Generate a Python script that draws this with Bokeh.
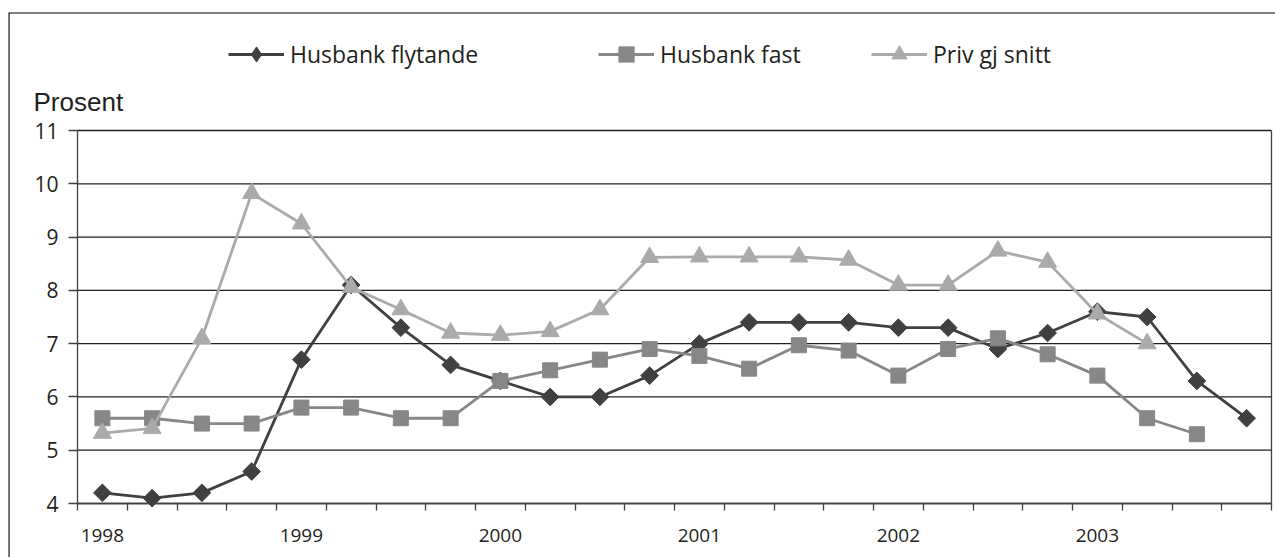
import math
from bokeh.plotting import figure
from bokeh.models import (FixedTicker, Legend, LegendItem, Label, Range1d, LinearAxis)
from bokeh.embed import file_html
from bokeh.resources import INLINE

# ---- data ----
quarters = [f"{y}K{q}" for y in range(1998, 2004) for q in range(1, 5)]
year_labels = ["1998", "1999", "2000", "2001", "2002", "2003"]
year_label_index = [0, 4, 8, 12, 16, 20]

husbank_flytande = [4.2, 4.1, 4.2, 4.6, 6.7, 8.1, 7.3, 6.6, 6.3, 6.0, 6.0, 6.4,
                    7.0, 7.4, 7.4, 7.4, 7.3, 7.3, 6.9, 7.2, 7.6, 7.5, 6.3, 5.6]
husbank_fast = [5.6, 5.6, 5.5, 5.5, 5.8, 5.8, 5.6, 5.6, 6.3, 6.5, 6.7, 6.9,
                6.77, 6.53, 6.97, 6.87, 6.4, 6.9, 7.1, 6.8, 6.4, 5.6, 5.3]
priv_gj_snitt = [5.32, 5.41, 7.1, 9.82, 9.25, 8.06, 7.64, 7.2, 7.16, 7.23, 7.64, 8.62,
                 8.63, 8.63, 8.63, 8.57, 8.1, 8.1, 8.74, 8.53, 7.56, 7.0]

series_names = ["Husbank flytande", "Husbank fast", "Priv gj snitt"]
y_ticks = [4, 5, 6, 7, 8, 9, 10, 11]
y_min, y_max = 4, 11

TXT = "#231f20"
C_FLYT = "#404040"
C_FAST = "#878787"
C_PRIV = "#aaaaaa"
C_AXIS = "#404040"

# ---- layout (pixels) ----
W, H = 1275, 557
FL, FT = 8, 12                 # outer box (frame) left / top
PL, PR, PT, PB = 77, 1271, 130, 503   # plot area inside the box
n_cat = len(quarters)
ppx = (PR - PL) / n_cat
ppy = (PB - PT) / (y_max - y_min)
x_start = -(PL - FL) / ppx
x_end = n_cat + (W - PR) / ppx
y_end = y_max + (PT - FT) / ppy
y_start = y_min - (H - PB) / ppy

p = figure(width=W, height=H, output_backend="svg", toolbar_location=None,
           x_range=Range1d(x_start, x_end), y_range=Range1d(y_start, y_end),
           min_border_left=FL, min_border_top=FT, min_border_right=0,
           min_border_bottom=0)
p.background_fill_color = "white"
p.border_fill_color = "white"
p.outline_line_color = None
p.xgrid.visible = False
p.ygrid.visible = False

xax = p.below[0]
yax = p.left[0]


def plain_axis(**kw):
    return LinearAxis(ticker=FixedTicker(ticks=[]), major_label_text_font_size="0px",
                      major_tick_line_color=None, minor_tick_line_color=None, **kw)


# outer box lines (left and top)
p.add_layout(plain_axis(fixed_location=x_start, bounds=(y_start, y_end),
                        axis_line_color="black", axis_line_width=2.2), "left")
p.add_layout(plain_axis(fixed_location=y_end, bounds=(x_start, x_end),
                        axis_line_color="black", axis_line_width=2.2), "above")
# right edge of plot area
p.add_layout(plain_axis(fixed_location=n_cat, bounds=(y_min, y_max),
                        axis_line_color=C_AXIS, axis_line_width=1.3), "right")

# horizontal gridlines across the plot area
p.segment(x0=[0] * len(y_ticks), y0=y_ticks, x1=[n_cat] * len(y_ticks), y1=y_ticks,
          line_color=TXT, line_width=1.3)

# y axis
yax.fixed_location = 0
yax.bounds = (y_min, y_max)
yax.ticker = FixedTicker(ticks=y_ticks)
yax.axis_line_color = C_AXIS
yax.axis_line_width = 1.3
yax.major_tick_line_color = C_AXIS
yax.major_tick_line_width = 1.3
yax.major_tick_out = 9
yax.major_tick_in = 0
yax.minor_tick_line_color = None
yax.major_label_text_font = "Open Sans"
yax.major_label_text_font_size = "21px"
yax.major_label_text_color = TXT
yax.major_label_standoff = 10

# x axis: labels at category centres, ticks at category boundaries
label_pos = [i + 0.5 for i in year_label_index]
xax.fixed_location = y_min
xax.bounds = (0, n_cat)
xax.ticker = FixedTicker(ticks=label_pos, minor_ticks=list(range(n_cat + 1)))
xax.major_label_overrides = {pos: lab for pos, lab in zip(label_pos, year_labels)}
xax.major_tick_line_color = None
xax.major_tick_out = 0
xax.major_tick_in = 0
xax.minor_tick_line_color = C_AXIS
xax.minor_tick_out = 7
xax.minor_tick_in = 0
xax.minor_tick_line_width = 1.3
xax.axis_line_color = C_AXIS
xax.axis_line_width = 1.3
xax.major_label_text_font = "Open Sans"
xax.major_label_text_font_size = "19px"
xax.major_label_text_color = TXT
xax.major_label_standoff = 18

# series
def xs(n):
    return [i + 0.5 for i in range(n)]

x_fl = xs(len(husbank_flytande))
l1 = p.line(x_fl, husbank_flytande, line_color=C_FLYT, line_width=2.8)
s1 = p.scatter(x_fl, husbank_flytande, marker="square",
               angle=math.pi / 4, size=12.5, fill_color=C_FLYT, line_color=C_FLYT)
# zero-size diamonds: only used for the legend swatch (legend ignores rotation)
d1 = p.scatter(x_fl, husbank_flytande, marker="diamond", size=0,
               fill_color=C_FLYT, line_color=C_FLYT)
l2 = p.line(xs(len(husbank_fast)), husbank_fast, line_color=C_FAST, line_width=2.8)
s2 = p.scatter(xs(len(husbank_fast)), husbank_fast, marker="square",
               size=15, fill_color=C_FAST, line_color=C_FAST)
l3 = p.line(xs(len(priv_gj_snitt)), priv_gj_snitt, line_color=C_PRIV, line_width=2.8)
s3 = p.scatter(xs(len(priv_gj_snitt)), priv_gj_snitt, marker="triangle",
               size=18, fill_color=C_PRIV, line_color=C_PRIV)

# legends, one per entry, placed as in the reference
leg_left = [228, 598, 871]
leg_bottom = 73
for name, rends, lx in zip(series_names, [[l1, d1], [l2, s2], [l3, s3]], leg_left):
    lg = Legend(items=[LegendItem(label=name, renderers=rends)],
                location=(lx - FL, H - leg_bottom), orientation="horizontal",
                glyph_width=56, glyph_height=38, label_standoff=6,
                padding=0, margin=0, spacing=0,
                border_line_color=None, background_fill_alpha=0,
                label_text_font="Open Sans", label_text_font_size="23px",
                label_text_color=TXT)
    p.add_layout(lg, "center")

p.add_layout(Label(x=33 - FL, y=H - 101, x_units="screen", y_units="screen",
                   text="Prosent", text_font="Liberation Sans", text_font_size="26px",
                   text_color=TXT, text_baseline="alphabetic"))

open("out.html", "w").write(file_html(p, INLINE))
